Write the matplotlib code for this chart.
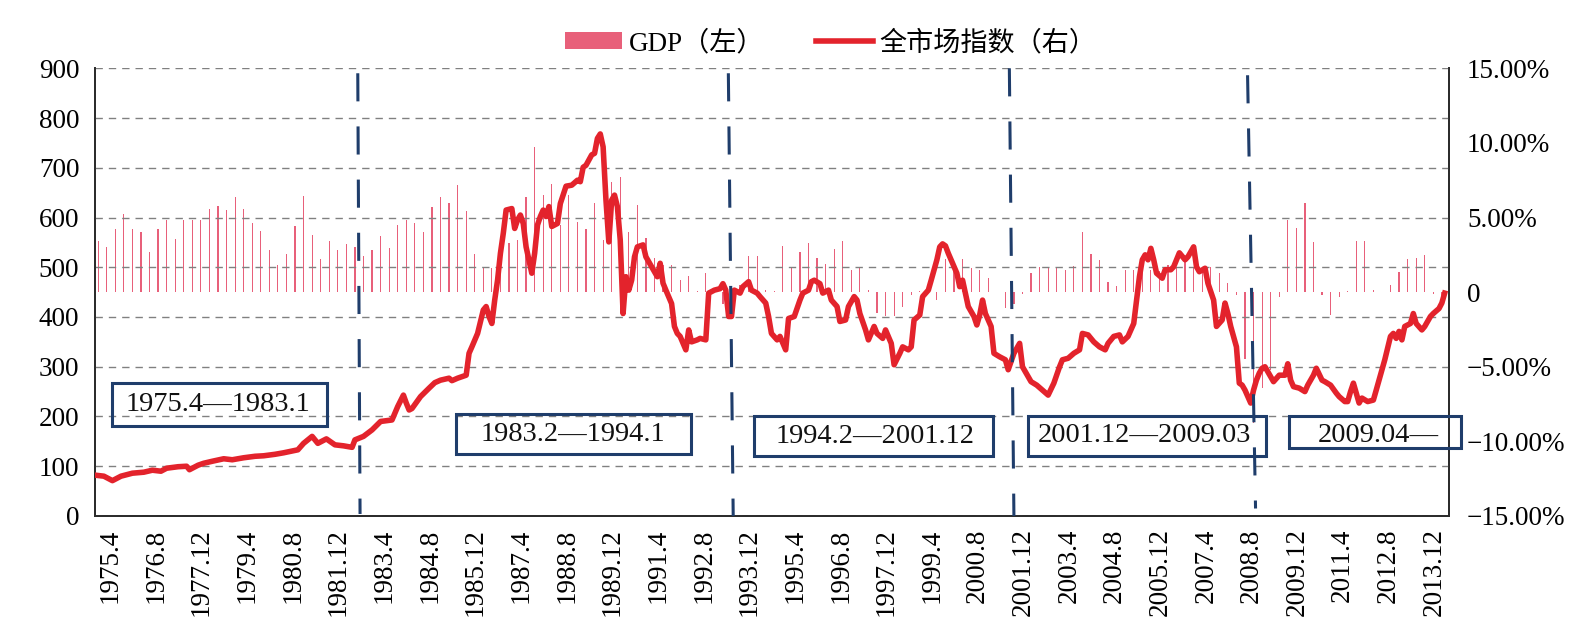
import matplotlib
matplotlib.use("Agg")
import matplotlib.pyplot as plt
import matplotlib.transforms as mtransforms
from matplotlib.patches import Rectangle

# ---------------------------------------------------------------------------
# DATA  (month index 0 = 1975.4, quarterly GDP bars start 1975Q2)
# ---------------------------------------------------------------------------
TICK_LABELS = ["1975.4", "1976.8", "1977.12", "1979.4", "1980.8", "1981.12",
               "1983.4", "1984.8", "1985.12", "1987.4", "1988.8", "1989.12",
               "1991.4", "1992.8", "1993.12", "1995.4", "1996.8", "1997.12",
               "1999.4", "2000.8", "2001.12", "2003.4", "2004.8", "2005.12",
               "2007.4", "2008.8", "2009.12", "2011.4", "2012.8", "2013.12"]
TICK_STEP = 16  # months between labels

LEFT_TICKS = [0, 100, 200, 300, 400, 500, 600, 700, 800, 900]
RIGHT_TICKS = [-15, -10, -5, 0, 5, 10, 15]
RIGHT_LABELS = ["\u221215.00%", "\u221210.00%", "\u22125.00%", "0",
                "5.00%", "10.00%", "15.00%"]

# market index (left axis), month offset from 1975.4
LINE_MONTHS = [
    0, 3, 6, 9, 13, 17, 20, 23, 25, 29, 32, 33, 36, 38, 41, 45, 48, 52, 56, 59,
    63, 66, 71, 73, 76, 78, 81, 84, 87, 90, 91, 94, 97, 100, 104, 106, 108, 109,
    110, 111, 114, 117, 119, 121, 124, 125, 127, 130, 131, 132, 134, 136, 137,
    138, 139, 140, 141, 142, 143, 144, 146, 147, 148, 149, 150, 151, 153, 154,
    155, 156, 157, 158, 159, 160, 162, 163, 165, 167, 169, 170, 171, 172, 174,
    175, 176, 177, 178, 179, 180, 181, 182, 183, 184, 185, 186, 187, 188, 189,
    190, 192, 193, 195, 197, 198, 199, 200, 202, 203, 204, 205, 207, 208, 209,
    211, 212, 214, 215, 217, 219, 220, 221, 222, 223, 224, 226, 227, 229, 230,
    232, 233, 235, 236, 237, 239, 240, 242, 243, 245, 247, 248, 250, 251, 252,
    254, 255, 257, 258, 260, 261, 263, 264, 266, 267, 268, 270, 271, 273, 274,
    276, 277, 279, 280, 282, 283, 285, 286, 287, 289, 290, 292, 293, 295, 296,
    297, 298, 299, 301, 302, 303, 304, 305, 306, 308, 309, 310, 311, 312, 314,
    315, 317, 319, 320, 322, 323, 324, 325, 327, 328, 330, 332, 334, 336, 338,
    339, 341, 343, 345, 346, 348, 350, 352, 354, 355, 357, 359, 360, 362, 364,
    365, 366, 367, 368, 369, 370, 371, 372, 374, 375, 377, 378, 380, 382, 383,
    385, 386, 387, 389, 390, 392, 393, 395, 396, 397, 398, 400, 401, 402, 403,
    405, 406, 407, 408, 409, 410, 412, 413, 415, 417, 418, 419, 420, 422, 424,
    425, 427, 428, 430, 431, 433, 435, 436, 438, 439, 440, 441, 443, 444, 446,
    448, 449, 451, 452, 454, 455, 456, 457, 458, 459, 461, 462, 463, 465, 466,
    468, 469, 471, 472, 473]
LINE_VALUES = [
    82, 80, 71, 80, 86, 88, 92, 90, 96, 99, 100, 93, 102, 106, 110, 115, 113,
    117, 120, 121, 124, 127, 133, 146, 160, 146, 155, 143, 141, 138, 153, 160,
    173, 190, 193, 220, 243, 227, 213, 216, 240, 257, 268, 273, 277, 272, 277,
    283, 327, 340, 367, 414, 421, 401, 387, 434, 474, 528, 568, 615, 618, 578,
    595, 605, 588, 541, 488, 528, 585, 602, 615, 602, 622, 582, 588, 628, 663,
    665, 675, 672, 701, 705, 726, 729, 759, 768, 742, 635, 551, 635, 645, 622,
    555, 407, 481, 454, 474, 521, 541, 545, 521, 501, 481, 508, 468, 454, 427,
    381, 367, 361, 334, 374, 350, 354, 357, 354, 448, 454, 457, 467, 454, 401,
    401, 454, 448, 461, 471, 454, 448, 441, 428, 401, 367, 354, 361, 334, 397,
    401, 434, 448, 454, 471, 474, 467, 448, 454, 434, 421, 391, 394, 421, 441,
    434, 407, 374, 354, 381, 367, 357, 374, 347, 304, 327, 340, 334, 340, 394,
    404, 441, 454, 474, 515, 541, 547, 543, 528, 501, 488, 461, 474, 448, 421,
    401, 384, 404, 434, 407, 381, 327, 320, 314, 294, 327, 337, 347, 300, 280,
    270, 263, 253, 243, 267, 300, 314, 317, 327, 334, 367, 364, 350, 340, 334,
    347, 361, 364, 350, 361, 387, 434, 481, 515, 525, 515, 538, 515, 488, 478,
    495, 495, 501, 529, 515, 521, 541, 501, 491, 498, 468, 434, 381, 394, 428,
    407, 381, 340, 267, 263, 253, 227, 253, 273, 287, 297, 300, 280, 270, 283,
    283, 306, 273, 260, 257, 250, 263, 283, 297, 273, 270, 263, 247, 240, 230,
    230, 250, 267, 227, 237, 230, 233, 253, 294, 314, 361, 367, 357, 371, 354,
    381, 387, 407, 387, 374, 381, 401, 407, 417, 428, 448]

# GDP growth, % (right axis), one value per quarter from 1975Q2
GDP_GROWTH = [
    3.4, 3.0, 4.2, 5.25, 4.2, 4.0, 2.7, 4.2, 4.8, 3.55,
    4.8, 4.85, 4.8, 5.6, 5.8, 5.5, 6.4, 5.6, 4.6, 4.1,
    2.8, 1.8, 2.55, 4.45, 6.45, 3.8, 2.2, 3.45, 2.8, 3.2,
    3.0, 2.45, 2.85, 3.75, 2.95, 4.5, 4.8, 4.6, 4.0, 5.7,
    6.35, 5.95, 7.2, 5.45, 2.55, 1.7, 1.6, 2.0, 3.3, 3.5,
    6.4, 9.75, 6.5, 7.25, 4.5, 6.5, 4.7, 4.2, 5.95, 3.5,
    7.4, 7.7, 4.0, 5.85, 3.6, 2.3, 1.8, 1.8, 0.8, 1.05,
    0.1, 1.27, 0.0, -0.8, 0.3, 0.5, 2.4, 2.4, 0.15, 0.05,
    3.06, 1.7, 2.66, 3.28, 2.28, 1.9, 2.88, 3.44, 1.5, 1.6,
    0.15, -1.4, -1.6, -1.6, -1.0, -0.2, 0.05, 0.2, -0.5, 2.2,
    1.7, 2.2, 1.6, 1.5, 0.94, 0.0, -1.07, -0.8, -0.1, 1.27,
    1.7, 1.6, 1.7, 1.5, 1.72, 4.0, 2.57, 2.17, 0.65, 0.38,
    1.5, 1.5, 2.0, 1.5, 1.4, 1.8, 1.6, 2.4, 1.6, 1.7,
    1.7, 1.27, 0.6, -0.2, -4.5, -8.8, -6.4, -5.2, -0.3, 4.84,
    4.33, 5.96, 3.33, -0.2, -1.52, -0.3, 0.1, 3.44, 3.44, 0.15,
    0.0, 0.45, 1.38, 2.2, 2.28, 2.46, -0.1, -0.3]

PERIOD_LABELS = ["1975.4\u20141983.1", "1983.2\u20141994.1",
                 "1994.2\u20142001.12", "2001.12\u20142009.03", "2009.04\u2014"]

# ---------------------------------------------------------------------------
# STYLE / LAYOUT
# ---------------------------------------------------------------------------
plt.rcParams["font.family"] = ["Liberation Serif", "Noto Sans CJK SC"]
LINE_RED = "#E3232C"
BAR_PINK = "#E8607A"
NAVY = "#1F3D6B"
FS = 19.5

# boundary dashes: (month top, value top, month bottom, value bottom)
BOUNDARIES = [(92.0, 890, 92.8, 4), (221.9, 890, 223.6, 0),
              (320.4, 900, 322.0, 0), (403.9, 886, 406.7, 15)]
# period boxes: (left, right, bottom, top) in data units, text centre
BOXES = [((5.9, 81.2, 181, 267), (43.1, 225)),
         ((126.6, 208.9, 125, 206), (167.3, 163)),
         ((231.0, 314.6, 120, 201), (273.3, 160)),
         ((326.9, 410.2, 121, 200), (367.6, 161)),
         ((418.4, 478.7, 136, 200), (449.8, 162))]

fig = plt.figure(figsize=(15.86, 6.37), dpi=100)
ax = fig.add_axes([0.0601, 0.19, 0.8535, 0.7028])
ax2 = ax.twinx()
ax.set_zorder(ax2.get_zorder() + 1)
ax.patch.set_visible(False)

# GDP bars on the percent axis
bar_x = [1 + 3 * i for i in range(len(GDP_GROWTH))]
bars = ax2.bar(bar_x, GDP_GROWTH, width=0.42, color=BAR_PINK, linewidth=0)
ax2.set_ylim(-15, 15)
ax2.set_yticks(RIGHT_TICKS, RIGHT_LABELS)
ax2.tick_params(axis="y", length=0, pad=13, labelsize=FS)

# market index line
line, = ax.plot(LINE_MONTHS, LINE_VALUES, color=LINE_RED, lw=4.0,
                solid_joinstyle="round", zorder=3)
ax.set_xlim(0, 474.5)
ax.set_ylim(0, 900)
ax.set_yticks(LEFT_TICKS)
ax.tick_params(axis="y", length=0, pad=11.5, labelsize=FS)
ax.set_xticks([TICK_STEP * k for k in range(len(TICK_LABELS))], TICK_LABELS,
              rotation=90)
ax.tick_params(axis="x", length=0, pad=9, labelsize=FS)
shift = mtransforms.ScaledTranslation(15 / 100, 0, fig.dpi_scale_trans)
for lab in ax.get_xticklabels():
    lab.set_transform(lab.get_transform() + shift)

ax.yaxis.grid(True, color="#808080", linewidth=1.0, linestyle=(0, (5.3, 4.3)))
ax.set_axisbelow(True)

for a in (ax, ax2):
    a.spines["top"].set_visible(False)
    for s in ("left", "right", "bottom"):
        a.spines[s].set_color("#2b2b2b")
        a.spines[s].set_linewidth(1.3)

# period boundaries
for mt, vt, mb, vb in BOUNDARIES:
    ax.plot([mt, mb], [vt, vb], color=NAVY, lw=2.2, dashes=(9.2, 8.2),
            zorder=4, clip_on=False)

# period boxes
for (x0, x1, y0, y1), _ in BOXES:
    ax.add_patch(Rectangle((x0, y0), x1 - x0, y1 - y0, fill=False,
                           edgecolor=NAVY, lw=2.2, zorder=5, clip_on=False))
for text, (_, (tx, ty)) in zip(PERIOD_LABELS, BOXES):
    ax.text(tx, ty, text, ha="center", va="center", fontsize=20.5,
            color="#111111", zorder=6)

fig.legend([bars, line], ["GDP\uff08\u5de6\uff09", "\u5168\u5e02\u573a\u6307\u6570\uff08\u53f3\uff09"],
           loc="center", bbox_to_anchor=(0.524, 0.932), ncol=2, frameon=False,
           fontsize=FS, handlelength=2.1, handleheight=0.6, handletextpad=0.25,
           columnspacing=1.9)

fig.savefig("out.png", dpi=100)
